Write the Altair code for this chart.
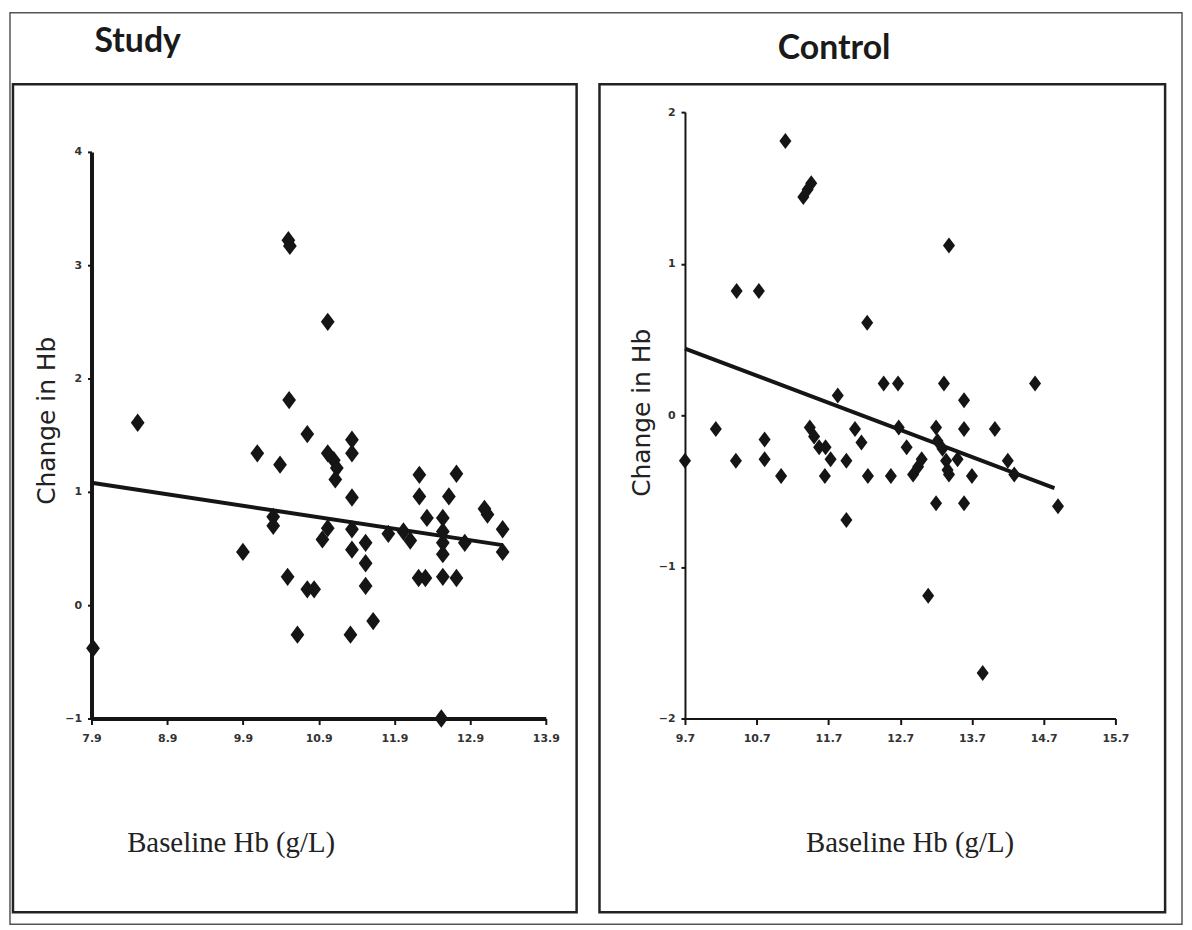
import altair as alt
import pandas as pd

# ---------------- data ----------------
study_x = [10.50, 10.52, 11.02, 10.51, 8.51, 10.75, 11.34, 11.34, 10.09, 11.02,
           11.10, 11.14, 11.12, 10.39, 12.23, 12.72, 12.23, 12.62, 11.34, 12.33,
           13.09, 13.13, 10.30, 10.30, 12.54, 12.54, 12.54, 12.54, 12.54, 13.33,
           13.33, 11.02, 10.95, 11.34, 11.34, 11.52, 11.52, 11.52, 11.82, 12.02,
           12.11, 12.83, 9.90, 10.49, 10.75, 10.84, 12.22, 12.31, 12.72, 10.62,
           11.32, 11.62, 12.52, 7.92]
study_y = [3.22, 3.17, 2.50, 1.81, 1.61, 1.51, 1.46, 1.34, 1.34, 1.34,
           1.28, 1.21, 1.11, 1.24, 1.15, 1.16, 0.96, 0.96, 0.95, 0.77,
           0.85, 0.80, 0.78, 0.70, 0.77, 0.65, 0.55, 0.45, 0.25, 0.67,
           0.47, 0.68, 0.58, 0.67, 0.49, 0.55, 0.37, 0.17, 0.63, 0.65,
           0.57, 0.55, 0.47, 0.25, 0.14, 0.14, 0.24, 0.24, 0.24, -0.26,
           -0.26, -0.14, -1.00, -0.38]

control_x = [11.10, 11.35, 11.41, 11.46, 13.38, 10.42, 10.73, 12.24, 12.47, 12.67,
             13.31, 14.58, 13.59, 11.83, 10.13, 11.44, 12.68, 13.20, 13.59, 14.02,
             12.07, 10.81, 10.81, 10.41, 9.70, 11.04, 11.50, 11.57, 11.66, 11.73,
             11.65, 11.95, 12.16, 12.25, 12.57, 12.79, 12.88, 12.95, 13.00, 13.22,
             13.29, 13.34, 13.38, 13.36, 13.50, 13.70, 14.20, 14.29, 14.90, 13.20,
             13.59, 11.95, 13.09, 13.85]
control_y = [1.81, 1.44, 1.49, 1.53, 1.12, 0.82, 0.82, 0.61, 0.21, 0.21,
             0.21, 0.21, 0.10, 0.13, -0.09, -0.08, -0.08, -0.08, -0.09, -0.09,
             -0.09, -0.16, -0.29, -0.30, -0.30, -0.40, -0.14, -0.21, -0.21, -0.29,
             -0.40, -0.30, -0.18, -0.40, -0.40, -0.21, -0.39, -0.34, -0.29, -0.17,
             -0.22, -0.30, -0.39, -0.36, -0.29, -0.40, -0.30, -0.39, -0.60, -0.58,
             -0.58, -0.69, -1.19, -1.70]

study_fit_x = [7.9, 13.33]
study_fit_y = [1.08, 0.53]
control_fit_x = [9.7, 14.85]
control_fit_y = [0.44, -0.48]

study_xticks = [7.9, 8.9, 9.9, 10.9, 11.9, 12.9, 13.9]
study_yticks = [-1, 0, 1, 2, 3, 4]
control_xticks = [9.7, 10.7, 11.7, 12.7, 13.7, 14.7, 15.7]
control_yticks = [-2, -1, 0, 1, 2]

titles = ["Study", "Control"]
x_title = "Baseline Hb (g/L)"
y_title = "Change in Hb"

# ---------------- styling ----------------
DIAMOND = "M0,-1L0.75,0L0,1L-0.75,0Z"
H = 610
INK = "#151515"
one = pd.DataFrame({"k": [0]})


def panel(xs, ys, fx, fy, xticks, yticks, width, yrange, title, title_pos,
          title_align, box, axis_w, msize, xtitle_x, ytitle_x, ytitle_y,
          frame=None):
    pts = pd.DataFrame({"x": xs, "y": ys})
    fit = pd.DataFrame({"x": fx, "y": fy})
    X = alt.X(
        "x:Q",
        scale=alt.Scale(domain=[xticks[0], xticks[-1]], nice=False, zero=False),
        axis=alt.Axis(
            values=xticks, format=".1f", title=x_title, grid=False,
            labelFlush=False,
            domainColor=INK, domainWidth=axis_w, tickColor=INK, tickWidth=2,
            tickSize=6, labelFont="DejaVu Sans", labelFontSize=11,
            labelFontWeight="bold", labelColor="#333", labelPadding=8,
            titleFont="Liberation Serif", titleFontSize=29,
            titleFontWeight="normal", titleColor="#222",
            titleX=xtitle_x, titleY=134, titleAlign="center",
            titleBaseline="alphabetic",
        ),
    )
    Y = alt.Y(
        "y:Q",
        scale=alt.Scale(domain=[yticks[0], yticks[-1]], nice=False, zero=False,
                        range=yrange),
        axis=alt.Axis(
            values=yticks, format="d", title=y_title, grid=False,
            labelFlush=False,
            domainColor=INK, domainWidth=axis_w, tickColor=INK, tickWidth=2,
            tickSize=4, labelFont="DejaVu Sans", labelFontSize=11,
            labelFontWeight="bold", labelColor="#333", labelPadding=6,
            titleFont="DejaVu Sans", titleFontSize=25, titleFontWeight="normal",
            titleColor="#222", titleAngle=270, titleX=ytitle_x, titleY=ytitle_y,
            titleAlign="center", titleBaseline="middle",
        ),
    )
    layers = []
    if frame is not None:
        layers.append(
            alt.Chart(one).mark_rect(fill="transparent", stroke="#555",
                                     strokeWidth=1.5)
            .encode(x=alt.value(frame[0]), x2=alt.value(frame[1]),
                    y=alt.value(frame[2]), y2=alt.value(frame[3]))
        )
    layers.append(
        alt.Chart(one).mark_rect(fill="transparent", stroke="#222",
                                 strokeWidth=2.5)
        .encode(x=alt.value(box[0]), x2=alt.value(box[1]),
                y=alt.value(box[2]), y2=alt.value(box[3]))
    )
    layers.append(
        alt.Chart(one).mark_text(text=title, font="Lato", fontSize=34,
                                 fontWeight="bold", color="#1a1a1a",
                                 align=title_align, baseline="alphabetic")
        .encode(x=alt.value(title_pos[0]), y=alt.value(title_pos[1]))
    )
    layers.append(
        alt.Chart(fit).mark_line(color=INK, strokeWidth=4).encode(x=X, y=Y)
    )
    layers.append(
        alt.Chart(pts).mark_point(shape=DIAMOND, filled=True, size=msize,
                                  color=INK, opacity=1).encode(x=X, y=Y)
    )
    return alt.layer(*layers).properties(width=width, height=H)


study = panel(study_x, study_y, study_fit_x, study_fit_y, study_xticks,
              study_yticks, 457, [H, 40], titles[0], (3, -60), "left",
              (-79, 488, -28, 805), 4, 340, 140, -45, 310,
              frame=(-82, 1097, -100, 817))
control = panel(control_x, control_y, control_fit_x, control_fit_y,
                control_xticks, control_yticks, 433, [H, 0], titles[1],
                (150, -53), "center", (-86, 483, -28, 805), 2, 260, 226,
                -44, 302)

chart = alt.hconcat(study, control, spacing=140, bounds="flush").properties(
    padding=0, background="white"
).configure_view(stroke="transparent")

chart.save("out.html", embed_options={"renderer": "svg", "actions": False})
